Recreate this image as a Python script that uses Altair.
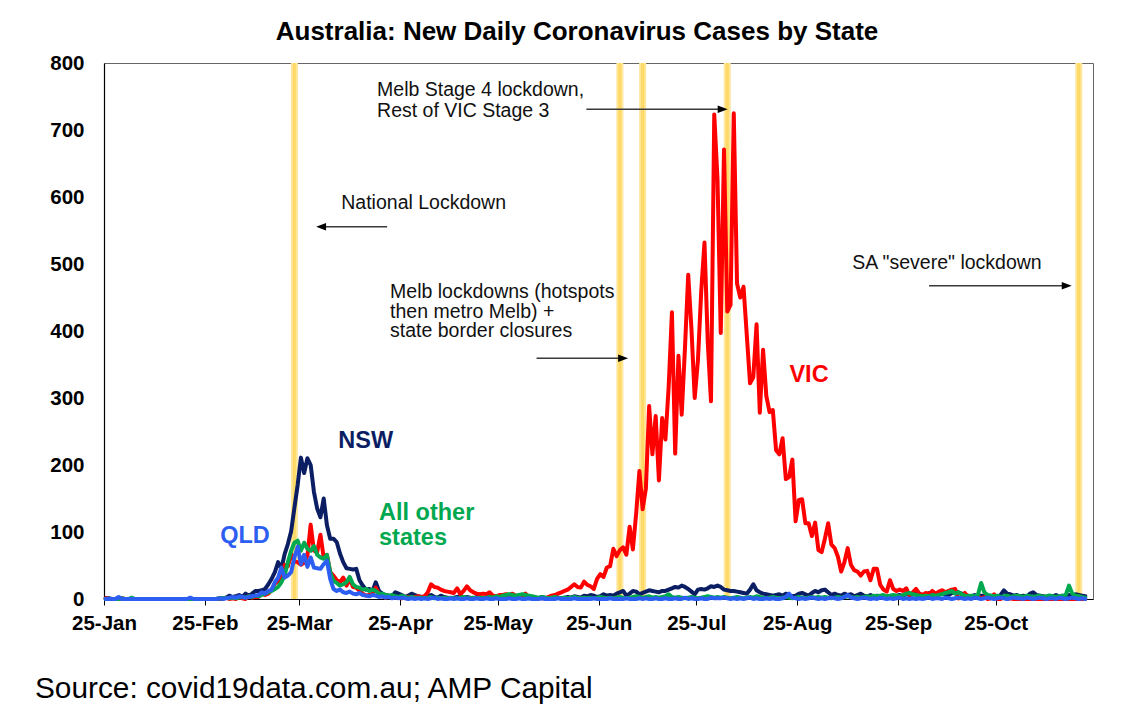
import altair as alt
import pandas as pd

FONT = "Liberation Sans"

# ---------------- data: daily new cases, from 25-Jan-2020 ----------------
vic = ([1, 0, 0, 0, 0, 1, 0]
       + [0, 0, 0, 0, 0, 0, 0, 0, 0, 0, 0, 0, 0, 0, 0, 0, 0, 0, 0, 0, 0, 0, 0, 0, 0, 0, 0, 0, 1]
       + [0, 2, 0, 1, 0, 3, 1, 0, 4, 2, 3, 3, 9, 6, 8, 14, 23, 27, 29, 51, 49, 67, 56, 55, 51, 54, 65, 111, 72, 70, 96]
       + [62, 66, 40, 35, 28, 25, 32, 20, 30, 18, 17, 12, 8, 5, 6, 7, 17, 8, 4, 2, 3, 3, 2, 3, 1, 2, 3, 2, 3, 4]
       + [3, 4, 10, 22, 18, 17, 14, 12, 11, 10, 9, 16, 7, 12, 19, 13, 10, 8, 7, 8, 7, 10, 5, 4, 6, 6, 7, 6, 8, 5, 4]
       + [4, 8, 3, 2, 2, 1, 1, 1, 3, 5, 6, 8, 10, 12, 14, 18, 22, 18, 17, 26, 21, 19, 15, 30, 37, 33, 47, 49, 75, 64]
       + [73, 77, 66, 108, 74, 127, 191, 134, 165, 288, 216, 273, 177, 270, 238, 317, 428, 217, 363, 275, 374, 484,
          403, 300, 357, 459, 532, 384, 295, 723, 627]
       + [397, 671, 429, 439, 725, 471, 450, 466, 394, 322, 331, 410, 278, 372, 303, 279, 282, 222, 216, 240, 179, 182,
          208, 116, 148, 149, 113, 113, 94, 114, 73]
       + [70, 90, 113, 81, 76, 63, 41, 55, 76, 51, 43, 41, 35, 41, 42, 28, 45, 45, 21, 14, 11, 28, 15, 12, 14, 12, 16, 5, 10, 15]
       + [8, 6, 9, 7, 12, 8, 11, 13, 10, 12, 14, 15, 1, 3, 9, 2, 1, 2, 4, 1, 3, 0, 1, 7, 0, 0, 2, 0, 1, 0, 0]
       + [0, 0, 0, 0, 0, 0, 0, 0, 0, 0, 0, 0, 0, 0, 0, 0, 0, 0, 0, 0, 0])

nsw = ([1, 1, 0, 0, 0, 0, 0]
       + [0, 0, 0, 0, 0, 0, 0, 0, 0, 0, 0, 0, 0, 0, 0, 0, 0, 0, 0, 0, 0, 0, 0, 0, 0, 0, 0, 0, 0]
       + [1, 2, 5, 3, 4, 6, 3, 8, 5, 8, 12, 12, 13, 15, 22, 30, 40, 55, 45, 67, 82, 101, 136, 170, 211, 188, 210, 200, 160, 135, 122]
       + [150, 110, 90, 90, 85, 68, 55, 46, 45, 44, 45, 28, 20, 14, 15, 12, 25, 12, 8, 6, 5, 4, 10, 8, 6, 3, 5, 8, 6, 4]
       + [3, 2, 4, 6, 3, 2, 5, 3, 2, 1, 2, 3, 4, 2, 3, 2, 1, 3, 2, 1, 2, 3, 1, 2, 3, 4, 2, 3, 2, 1, 2]
       + [2, 2, 1, 3, 2, 1, 3, 2, 1, 2, 3, 2, 1, 2, 3, 2, 4, 3, 2, 5, 4, 6, 5, 3, 4, 7, 5, 6, 5, 8]
       + [10, 12, 5, 8, 12, 11, 7, 9, 11, 13, 12, 11, 10, 12, 12, 14, 16, 18, 17, 20, 18, 15, 11, 7, 14, 15, 14, 16, 19, 18, 20]
       + [18, 14, 13, 12, 12, 11, 10, 9, 8, 14, 22, 13, 10, 8, 7, 6, 5, 6, 7, 5, 8, 6, 4, 5, 8, 9, 7, 5, 9, 12, 10]
       + [13, 14, 10, 6, 8, 6, 5, 8, 6, 7, 4, 6, 8, 5, 4, 6, 3, 5, 4, 3, 2, 4, 3, 5, 6, 4, 8, 6, 7, 8]
       + [8, 6, 5, 9, 7, 6, 8, 10, 7, 6, 9, 12, 10, 8, 6, 5, 4, 6, 3, 5, 4, 2, 5, 4, 3, 6, 13, 8, 7, 5, 6]
       + [4, 5, 3, 8, 10, 6, 5, 4, 3, 5, 4, 6, 3, 5, 4, 6, 5, 7, 6, 5, 4])

qld = ([0, 0, 0, 0, 3, 0, 0]
       + [0, 0, 0, 0, 0, 0, 0, 0, 0, 0, 0, 0, 0, 0, 0, 0, 0, 0, 0, 2, 0, 0, 0, 0, 0, 0, 0, 0, 1]
       + [0, 1, 2, 3, 2, 4, 3, 2, 3, 4, 5, 6, 10, 8, 12, 14, 25, 32, 47, 32, 35, 40, 62, 78, 52, 66, 48, 62, 47, 46, 45]
       + [52, 57, 30, 15, 12, 14, 10, 9, 11, 8, 7, 9, 6, 5, 4, 6, 5, 3, 4, 2, 3, 1, 2, 1, 2, 1, 0, 1, 0, 1]
       + [0, 1, 0, 1, 2, 0, 1, 0, 0, 1, 0, 1, 0, 0, 1, 0, 0, 1, 0, 0, 1, 0, 0, 1, 0, 0, 0, 1, 0, 0, 1]
       + [0, 0, 1, 0, 0, 0, 1, 0, 0, 0, 0, 1, 0, 0, 0, 0, 1, 0, 0, 0, 0, 0, 1, 0, 0, 0, 0, 1, 0, 0]
       + [0, 0, 1, 0, 0, 0, 1, 0, 1, 0, 0, 1, 0, 0, 1, 0, 0, 1, 0, 0, 2, 0, 1, 0, 0, 1, 0, 0, 2, 1, 1]
       + [1, 2, 1, 0, 1, 0, 1, 0, 1, 2, 0, 1, 0, 0, 1, 0, 1, 0, 0, 1, 3, 8, 2, 1, 0, 1, 0, 1, 2, 1, 0]
       + [1, 0, 1, 2, 1, 0, 1, 3, 6, 2, 1, 0, 1, 2, 1, 0, 1, 0, 2, 1, 0, 1, 0, 1, 2, 0, 1, 0, 1, 0]
       + [1, 0, 1, 2, 0, 1, 1, 0, 2, 1, 0, 1, 2, 1, 0, 1, 0, 2, 1, 0, 1, 2, 1, 0, 1, 2, 1, 0, 1, 2, 1]
       + [1, 0, 2, 1, 0, 1, 2, 1, 0, 1, 1, 0, 2, 1, 0, 1, 2, 1, 0, 1, 0])

other = ([0, 0, 0, 0, 0, 1, 0]
         + [0, 2, 0, 0, 0, 0, 0, 0, 0, 0, 0, 0, 0, 0, 0, 0, 0, 0, 0, 0, 0, 0, 0, 0, 0, 0, 0, 0, 1]
         + [1, 2, 1, 2, 1, 2, 3, 2, 4, 3, 5, 4, 6, 8, 10, 12, 15, 18, 25, 35, 55, 72, 84, 87, 72, 84, 75, 72, 79, 66, 62]
         + [60, 66, 40, 27, 24, 20, 22, 25, 33, 22, 18, 17, 14, 15, 12, 14, 12, 8, 8, 6, 5, 6, 4, 3, 5, 3, 2, 3, 2, 2]
         + [2, 1, 2, 3, 1, 2, 1, 2, 1, 2, 1, 1, 2, 3, 2, 1, 2, 1, 2, 1, 2, 3, 2, 4, 3, 5, 6, 7, 6, 5, 6]
         + [7, 6, 5, 4, 3, 2, 3, 2, 1, 2, 3, 2, 1, 2, 1, 2, 3, 2, 1, 2, 1, 2, 1, 2, 3, 2, 1, 2, 1, 2]
         + [3, 2, 1, 2, 3, 4, 3, 2, 3, 4, 2, 3, 2, 3, 4, 7, 3, 2, 3, 2, 1, 2, 3, 2, 1, 2, 3, 4, 3, 2, 3]
         + [2, 3, 2, 1, 2, 3, 2, 1, 2, 3, 2, 4, 3, 2, 1, 2, 3, 2, 1, 2, 3, 2, 1, 2, 3, 2, 1, 2, 3, 2, 3]
         + [2, 3, 2, 1, 2, 3, 2, 3, 4, 3, 2, 3, 2, 3, 4, 3, 5, 4, 5, 6, 4, 5, 6, 5, 4, 6, 8, 9, 7, 6]
         + [5, 4, 5, 4, 6, 5, 6, 7, 9, 10, 12, 8, 10, 7, 5, 4, 5, 4, 6, 24, 10, 6, 5, 4, 5, 3, 4, 5, 3, 4, 5]
         + [4, 3, 5, 4, 3, 4, 5, 3, 4, 5, 4, 3, 4, 5, 6, 20, 8, 5, 4, 3, 2])

start_date = "2020-01-25"
event_dates = ["2020-03-23", "2020-07-01", "2020-07-08", "2020-08-03", "2020-11-19"]
y_ticks = [0, 100, 200, 300, 400, 500, 600, 700, 800]
title_text = "Australia: New Daily Coronavirus Cases by State"
source_text = "Source: covid19data.com.au; AMP Capital"

series = [  # drawing order: first is at the back
    ("NSW", nsw, "#0B1E63"),
    ("VIC", vic, "#FF0000"),
    ("All other states", other, "#00A84F"),
    ("QLD", qld, "#2D5EF2"),
]

# ---------------- helpers ----------------
start = pd.Timestamp(start_date)


def at(days):
    """ISO timestamp (UTC) a number of days after the start date."""
    return (start + pd.Timedelta(days=days)).strftime("%Y-%m-%dT%H:%M:%SZ")


# daily values are drawn at midday of their date
day_stamps = [at(i + 0.5) for i in range(len(vic))]

x_scale = alt.Scale(type="utc", nice=False,
                    domain=[alt.DateTime(year=2020, month=1, date=25, hours=0, utc=True),
                            alt.DateTime(year=2020, month=11, date=23, hours=21, utc=True)])
y_scale = alt.Scale(domain=[0, 800], nice=False, zero=True)

x_axis = alt.Axis(values=[alt.DateTime(year=2020, month=m, date=25, utc=True) for m in range(1, 11)],
                  labelExpr="utcFormat(datum.value, '%d-%b')", title=None, grid=False,
                  ticks=True, tickSize=6, tickColor="black", tickWidth=1,
                  domainColor="black", domainWidth=1.2,
                  labelFont=FONT, labelFontSize=20.5, labelFontWeight="bold", labelColor="black",
                  labelPadding=8, labelFlush=False, labelOverlap=False, labelAngle=0)
y_axis = alt.Axis(values=y_ticks, title=None, grid=False, ticks=False, tickSize=0,
                  domainColor="black", domainWidth=1.2,
                  labelFont=FONT, labelFontSize=20.5, labelFontWeight="bold", labelColor="black",
                  labelPadding=20)


def X(field="date"):
    return alt.X(f"{field}:T", scale=x_scale, axis=x_axis)


def Y(field="value"):
    return alt.Y(f"{field}:Q", scale=y_scale, axis=y_axis)


layers = []

# yellow event bands
bands = pd.DataFrame({"date": [d + "T12:00:00Z" for d in event_dates]})
layers.append(alt.Chart(bands).mark_rule(color="#FFE699", strokeWidth=7).encode(x=X()))
layers.append(alt.Chart(bands).mark_rule(color="#FFD966", strokeWidth=3).encode(x=X()))

# state lines
for name, values, color in series:
    df = pd.DataFrame({"date": day_stamps, "value": values, "state": name})
    layers.append(
        alt.Chart(df).mark_line(color=color, strokeWidth=4, strokeJoin="round", strokeCap="round")
        .encode(x=X(), y=Y())
    )

# annotation arrows (start day, end day, level)
arrows = pd.DataFrame({
    "date": [at(66.7), at(148.2), at(132.9), at(253.5)],
    "date2": [at(87.0), at(189.2), at(158.3), at(294.5)],
    "value": [555.7, 730.9, 359.3, 467.6],
})
layers.append(alt.Chart(arrows).mark_rule(color="#3a3a3a", strokeWidth=1.5)
              .encode(x=X(), x2="date2:T", y=Y()))

heads = pd.DataFrame({
    "date": [at(66.7), at(190.1), at(159.5), at(295.8)],
    "value": [555.7, 730.9, 359.3, 467.6],
    "shape": ["M1,-0.75L-1,0L1,0.75Z", "M-1,-0.75L1,0L-1,0.75Z",
              "M-1,-0.75L1,0L-1,0.75Z", "M-1,-0.75L1,0L-1,0.75Z"],
})
layers.append(alt.Chart(heads).mark_point(filled=True, size=100, color="black", opacity=1, strokeWidth=0)
              .encode(x=X(), y=Y(), shape=alt.Shape("shape:N", scale=None, legend=None)))

# event notes
notes = pd.DataFrame({
    "label": ["Melb Stage 4 lockdown,", "Rest of VIC Stage 3", "National Lockdown",
              "Melb lockdowns (hotspots", "then metro Melb) +", "state border closures",
              'SA "severe" lockdown'],
    "date": [at(83.9), at(83.9), at(72.9), at(87.9), at(87.9), at(87.9), at(229.9)],
    "value": [750.7, 719.9, 581.6, 449.7, 419.9, 390.3, 492.1],
})
layers.append(alt.Chart(notes).mark_text(align="left", baseline="alphabetic", font=FONT, fontSize=19.5,
                                         color="#111111")
              .encode(x=X(), y=Y(), text="label:N"))

# series labels
labels = pd.DataFrame({
    "label": ["VIC", "NSW", "QLD", "All other", "states"],
    "date": [at(210.6), at(72.0), at(35.7), at(84.5), at(84.5)],
    "value": [324.3, 224.9, 83.1, 118.6, 81.0],
    "color": ["#FF0000", "#0B1E63", "#2D5EF2", "#00A84F", "#00A84F"],
})
layers.append(alt.Chart(labels).mark_text(align="left", baseline="alphabetic", font=FONT, fontSize=23.5,
                                          fontWeight="bold")
              .encode(x=X(), y=Y(), text="label:N", color=alt.Color("color:N", scale=None, legend=None)))

# chart title (centred over the figure) and source line
heading = pd.DataFrame({"label": [title_text]})
layers.append(alt.Chart(heading).mark_text(align="center", baseline="alphabetic", font=FONT, fontSize=26,
                                           fontWeight="bold", color="black")
              .encode(x=alt.value(473), y=alt.value(-23.5), text="label:N"))

source = pd.DataFrame({"label": [source_text]})
layers.append(alt.Chart(source).mark_text(align="left", baseline="alphabetic", font=FONT, fontSize=29.8,
                                          color="black")
              .encode(x=alt.value(-69), y=alt.value(635), text="label:N"))

chart = (
    alt.layer(*layers)
    .properties(
        width=989, height=536,
        padding={"left": 96, "top": 55, "right": 25, "bottom": 105},
        autosize=alt.AutoSizeParams(type="none"),
        background="white",
    )
    .configure_view(stroke="#666666", strokeWidth=1)
)

chart.save("out.html", embed_options={"renderer": "svg", "actions": False})
